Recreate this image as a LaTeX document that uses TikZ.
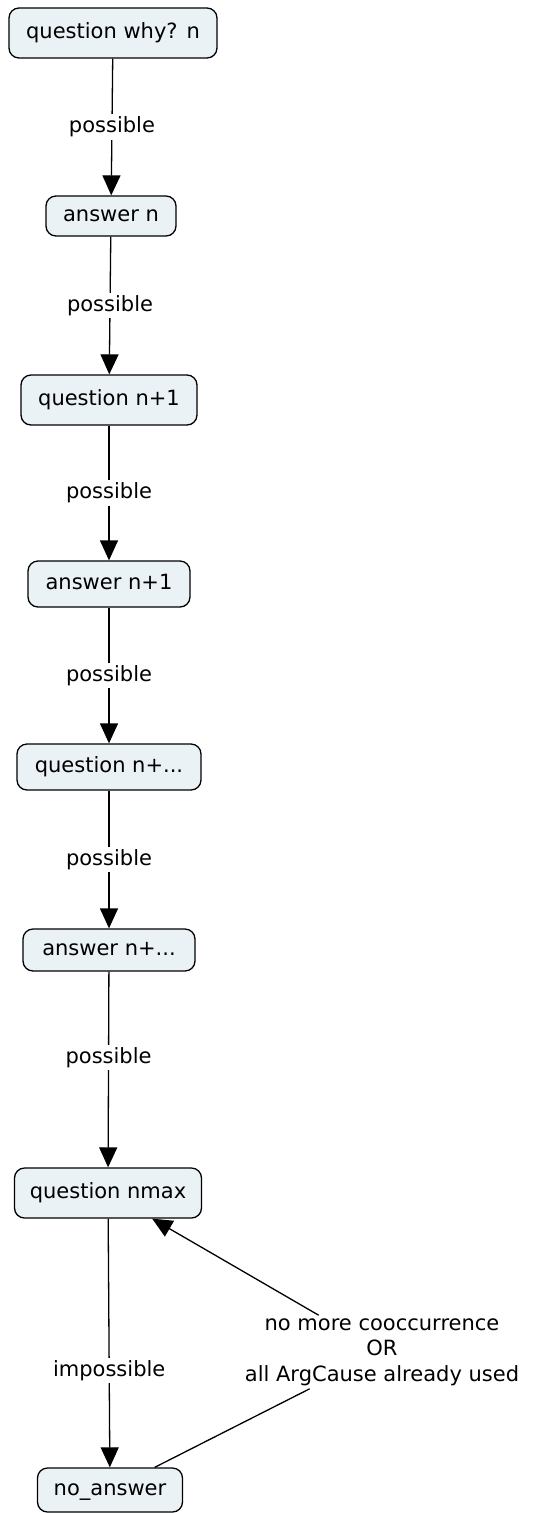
\documentclass[tikz,border=0pt]{standalone}
\usepackage{fontspec}
\setmainfont{DejaVu Sans}
\usetikzlibrary{arrows.meta}
\definecolor{conceptfill}{RGB}{235,242,245}
\tikzset{
  concept/.style={draw=black, line width=1.3pt, rounded corners=10pt,
    fill=conceptfill, inner sep=0pt, text height=15pt, text depth=4pt,
    font=\fontsize{21}{25}\selectfont},
  linkword/.style={fill=white, inner sep=2.5pt, font=\fontsize{21}{25}\selectfont},
  link/.style={line width=1.3pt, draw=black},
  flow/.style={link, -{Triangle[length=20pt,width=18pt]}}
}
\begin{document}
\begin{tikzpicture}[x=1pt,y=-1pt]
  \useasboundingbox[fill=white] (0,0) rectangle (539,1513);

  % concept boxes
  \node[concept, minimum width=208pt, minimum height=50pt] (q0) at (113,33)   {question why? n};
  \node[concept, minimum width=130pt, minimum height=40pt] (a0) at (111,216)  {answer n};
  \node[concept, minimum width=176pt, minimum height=50pt] (q1) at (109,400)  {question n+1};
  \node[concept, minimum width=162pt, minimum height=46pt] (a1) at (109,584)  {answer n+1};
  \node[concept, minimum width=184pt, minimum height=46pt] (q2) at (109,767)  {question n+...};
  \node[concept, minimum width=172pt, minimum height=42pt] (a2) at (109,950)  {answer n+...};
  \node[concept, minimum width=187pt, minimum height=50pt] (qm) at (108,1193) {question nmax};
  \node[concept, minimum width=145pt, minimum height=44pt] (na) at (110,1490) {no\_answer};

  % main chain
  \draw[flow] (q0) -- node[linkword] {possible} (a0);
  \draw[flow] (a0) -- node[linkword] {possible} (q1);
  \draw[flow] (q1) -- node[linkword] {possible} (a1);
  \draw[flow] (a1) -- node[linkword] {possible} (q2);
  \draw[flow] (q2) -- node[linkword] {possible} (a2);
  \draw[flow] (a2) -- node[linkword, pos=0.44] {possible} (qm);
  \draw[flow] (qm) -- node[linkword, pos=0.61] {impossible} (na);

  % loop back from no_answer
  \node[linkword, align=center, inner sep=3pt,
        font=\fontsize{21}{25.5}\selectfont] (why) at (382,1352)
    {no more cooccurrence\\OR\\all ArgCause already used};
  \draw[link] (na) -- (why);
  \draw[flow] (why) -- (qm);
\end{tikzpicture}
\end{document}
